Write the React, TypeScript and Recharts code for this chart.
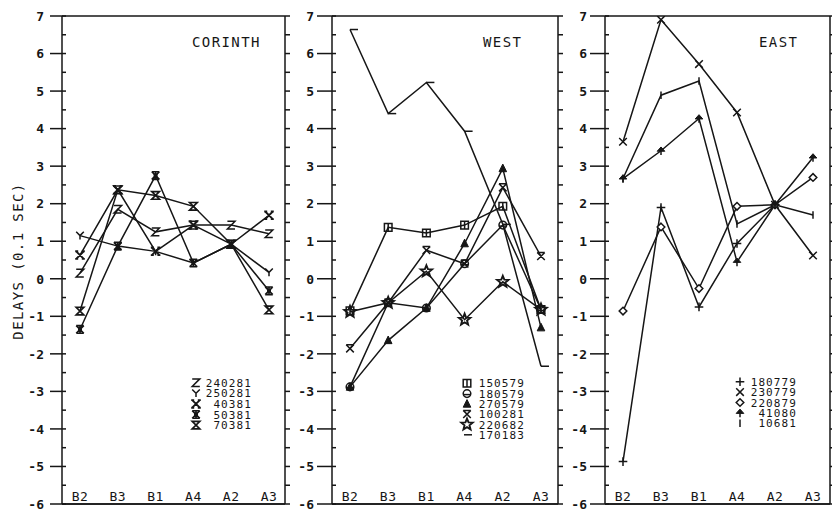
import React from "react";
import { LineChart, Line, XAxis, YAxis, ReferenceLine } from "recharts";

const INK = "#161616";
const FONT = "'DejaVu Sans Mono', monospace";

const categories = ["B2", "B3", "B1", "A4", "A2", "A3"];
const yTicks = [
  -6, -5.5, -5, -4.5, -4, -3.5, -3, -2.5, -2, -1.5, -1, -0.5, 0, 0.5, 1, 1.5,
  2, 2.5, 3, 3.5, 4, 4.5, 5, 5.5, 6, 6.5, 7,
];

// CORINTH
const cor240281 = [0.15, 1.85, 1.25, 1.43, 1.43, 1.2];
const cor250281 = [1.15, 0.87, 0.73, 0.42, 0.92, 0.17];
const cor40381 = [0.63, 2.37, 0.73, 1.43, 0.92, 1.69];
const cor50381 = [-1.35, 0.87, 2.75, 0.42, 0.92, -0.32];
const cor70381 = [-0.86, 2.37, 2.22, 1.93, 0.92, -0.83];

// WEST
const west150579 = [-0.85, 1.37, 1.22, 1.43, 1.93, -0.82];
const west180579 = [-2.88, -0.64, -0.78, 0.4, 1.43, -0.82];
const west270579 = [-2.88, -1.64, -0.78, 0.94, 2.94, -1.3];
const west100281 = [-1.86, -0.64, 0.76, 0.4, 2.43, 0.6];
const west220682 = [-0.88, -0.64, 0.2, -1.09, -0.08, -0.82];
const west170183 = [6.64, 4.4, 5.23, 3.93, 1.45, -2.33];

// EAST
const east180779 = [-4.87, 1.9, -0.75, 0.94, 1.97, null];
const east230779 = [3.65, 6.9, 5.72, 4.43, 1.97, 0.62];
const east220879 = [-0.86, 1.38, -0.26, 1.93, 1.97, 2.7];
const east41080 = [2.67, 3.41, 4.27, 0.45, 1.97, 3.23];
const east10681 = [2.67, 4.89, 5.27, 1.46, 1.97, 1.7];

type Kind =
  | "Z" | "Y" | "xbold" | "ast" | "hour" | "sqbar" | "circ" | "tri"
  | "xtop" | "star" | "dash" | "plus" | "cross" | "diam" | "arrow" | "bar";

interface Series {
  key: string;
  label: string;
  kind: Kind;
  values: (number | null)[];
}

const corinthSeries: Series[] = [
  { key: "s240281", label: "240281", kind: "Z", values: cor240281 },
  { key: "s250281", label: "250281", kind: "Y", values: cor250281 },
  { key: "s40381", label: "40381", kind: "xbold", values: cor40381 },
  { key: "s50381", label: "50381", kind: "ast", values: cor50381 },
  { key: "s70381", label: "70381", kind: "hour", values: cor70381 },
];

const westSeries: Series[] = [
  { key: "s150579", label: "150579", kind: "sqbar", values: west150579 },
  { key: "s180579", label: "180579", kind: "circ", values: west180579 },
  { key: "s270579", label: "270579", kind: "tri", values: west270579 },
  { key: "s100281", label: "100281", kind: "xtop", values: west100281 },
  { key: "s220682", label: "220682", kind: "star", values: west220682 },
  { key: "s170183", label: "170183", kind: "dash", values: west170183 },
];

const eastSeries: Series[] = [
  { key: "s180779", label: "180779", kind: "plus", values: east180779 },
  { key: "s230779", label: "230779", kind: "cross", values: east230779 },
  { key: "s220879", label: "220879", kind: "diam", values: east220879 },
  { key: "s41080", label: "41080", kind: "arrow", values: east41080 },
  { key: "s10681", label: "10681", kind: "bar", values: east10681 },
];

function starPath(r: number, ri: number) {
  const pts: string[] = [];
  for (let i = 0; i < 10; i++) {
    const a = -Math.PI / 2 + (i * Math.PI) / 5;
    const rr = i % 2 === 0 ? r : ri;
    pts.push(`${(Math.cos(a) * rr).toFixed(2)},${(Math.sin(a) * rr).toFixed(2)}`);
  }
  return "M" + pts.join("L") + "Z";
}

function Marker({ kind, x, y }: { kind: Kind; x: number; y: number }) {
  const s = 3.8;
  const st = { stroke: INK, strokeWidth: 1.5, fill: "none" };
  let body: React.ReactNode = null;
  switch (kind) {
    case "Z":
      body = <path d={`M${-s},${-s}H${s}L${-s},${s}H${s}`} {...st} />;
      break;
    case "Y":
      body = <path d={`M${-s},${-s}L0,0L${s},${-s}M0,0V${s}`} {...st} />;
      break;
    case "xbold":
      body = (
        <path
          d={`M${-s},${-s}L${s},${s}M${s},${-s}L${-s},${s}M${-s - 1},${-s}H${-s + 2}M${s - 2},${-s}H${s + 1}M${-s - 1},${s}H${-s + 2}M${s - 2},${s}H${s + 1}`}
          {...st}
          strokeWidth={1.9}
        />
      );
      break;
    case "ast":
      body = (
        <g>
          <path d={`M${-s},${-s}L${s},${s}M${s},${-s}L${-s},${s}M0,${-s}V${s}M${-s},${-s}H${s}M${-s},${s}H${s}`} {...st} strokeWidth={1.6} />
          <rect x={-2} y={-2} width={4} height={4} fill={INK} />
        </g>
      );
      break;
    case "hour":
      body = <path d={`M${-s},${-s}H${s}L${-s},${s}H${s}Z`} {...st} strokeWidth={1.7} />;
      break;
    case "sqbar":
      body = <path d={`M${-s},${-s}H${s}V${s}H${-s}ZM0,${-s}V${s}`} {...st} />;
      break;
    case "circ":
      body = (
        <g>
          <circle r={s} {...st} />
          <path d={`M${-s},1H${s}`} {...st} />
        </g>
      );
      break;
    case "tri":
      body = <path d={`M0,${-s - 0.5}L${s},${s - 0.5}L${-s},${s - 0.5}Z`} fill={INK} stroke={INK} strokeWidth={1} />;
      break;
    case "xtop":
      body = <path d={`M${-s},${-s}H${s}M${-s},${-s}L${s},${s}M${s},${-s}L${-s},${s}`} {...st} />;
      break;
    case "star":
      body = <path d={starPath(6, 2.6)} {...st} strokeWidth={1.9} />;
      break;
    case "dash":
      body = <path d="M0,0H8" {...st} />;
      break;
    case "plus":
      body = <path d={`M${-s - 0.5},0H${s + 0.5}M0,${-s - 0.5}V${s + 0.5}`} {...st} />;
      break;
    case "cross":
      body = <path d={`M${-s},${-s}L${s},${s}M${s},${-s}L${-s},${s}`} {...st} />;
      break;
    case "diam":
      body = <path d={`M0,${-s}L${s},0L0,${s}L${-s},0Z`} {...st} fill="#fff" />;
      break;
    case "arrow":
      body = (
        <g>
          <path d={`M0,${-s}L${s},0.5L${-s},0.5Z`} fill={INK} stroke={INK} strokeWidth={1} />
          <path d={`M0,0V${s + 0.5}`} {...st} />
        </g>
      );
      break;
    case "bar":
      body = <path d={`M0,${-s}V${s}`} {...st} />;
      break;
  }
  return <g transform={`translate(${x},${y})`}>{body}</g>;
}

function CatTick(props: any) {
  const { x, y, payload } = props;
  return (
    <text x={x} y={y - 3} textAnchor="middle" fill={INK} fontSize={13} fontFamily={FONT} letterSpacing={0.5}>
      {payload.value}
    </text>
  );
}

// left axis tick: long outward tick + label on integers, short inward tick everywhere,
// and the outward tick on the right-hand frame
function YTick(props: any) {
  const { x, y, payload, tickLen, gap, plotW } = props;
  const v = payload.value as number;
  const major = Number.isInteger(v);
  return (
    <g>
      {major && <path d={`M${x - tickLen},${y}H${x}`} stroke={INK} strokeWidth={1.5} fill="none" />}
      {major && (
        <text
          x={x - tickLen - gap}
          y={y + 4.8}
          textAnchor="end"
          fill={INK}
          fontSize={13}
          fontFamily={FONT}
          fontWeight={700}
        >
          {v}
        </text>
      )}
      <path d={`M${x},${y}H${x + 4}`} stroke={INK} strokeWidth={1.5} fill="none" />
      <path d={`M${x + plotW},${y}H${x + plotW + 5}`} stroke={INK} strokeWidth={1.5} fill="none" />
    </g>
  );
}

interface PanelProps {
  left: number;
  width: number;
  axisW: number;
  rightW: number;
  tickLen: number;
  tickGap: number;
  padL: number;
  padR: number;
  series: Series[];
}

function Panel({ left, width, axisW, rightW, tickLen, tickGap, padL, padR, series }: PanelProps) {
  const data = categories.map((cat, i) => {
    const row: Record<string, any> = { cat };
    series.forEach((s) => {
      row[s.key] = s.values[i];
    });
    return row;
  });
  const axisLine = { stroke: INK, strokeWidth: 1.5 };
  const plotW = width - axisW - rightW;
  return (
    <div style={{ position: "absolute", left, top: 0 }}>
      <LineChart width={width} height={510} data={data} margin={{ top: 16, right: 0, bottom: 5, left: 0 }}>
        <XAxis
          dataKey="cat"
          type="category"
          scale="point"
          padding={{ left: padL, right: padR }}
          height={1}
          tickSize={0}
          tickMargin={0}
          interval={0}
          tickLine={false}
          axisLine={axisLine}
          tick={<CatTick />}
        />
        <YAxis
          type="number"
          domain={[-6, 7]}
          ticks={yTicks}
          interval={0}
          minTickGap={0}
          allowDataOverflow
          width={axisW}
          tickSize={0}
          tickMargin={0}
          axisLine={axisLine}
          tickLine={false}
          tick={<YTick tickLen={tickLen} gap={tickGap} plotW={plotW} />}
        />
        <YAxis
          yAxisId="right"
          orientation="right"
          type="number"
          domain={[-6, 7]}
          allowDataOverflow
          width={rightW}
          axisLine={axisLine}
          tickLine={false}
          tick={false}
        />
        <ReferenceLine y={7} stroke={INK} strokeWidth={1.5} />
        <ReferenceLine y={-6} stroke={INK} strokeWidth={1.5} />
        {series.map((s) => (
          <Line
            key={s.key}
            dataKey={s.key}
            type="linear"
            stroke={INK}
            strokeWidth={1.5}
            isAnimationActive={false}
            activeDot={false}
            dot={(p: any) =>
              p.cy == null || p.value == null ? (
                <g key={`${s.key}-${p.index}`} />
              ) : (
                <Marker key={`${s.key}-${p.index}`} kind={s.kind} x={p.cx} y={p.cy} />
              )
            }
          />
        ))}
      </LineChart>
    </div>
  );
}

function LegendBlock({ series, symX, textRight, top, step }: { series: Series[]; symX: number; textRight: number; top: number; step: number }) {
  return (
    <g>
      {series.map((s, i) => {
        const y = top + i * step;
        return (
          <g key={s.key}>
            <Marker kind={s.kind} x={s.kind === "dash" ? symX - 3 : symX} y={y} />
            <text x={textRight} y={y + 4} textAnchor="end" fontSize={11} fontFamily={FONT} fill={INK} letterSpacing={1.1}>
              {s.label}
            </text>
          </g>
        );
      })}
    </g>
  );
}

export default function App() {
  const titleStyle = { fontSize: 14, fontFamily: FONT, fill: INK, letterSpacing: 1.4 } as const;
  return (
    <div style={{ position: "absolute", left: 0, top: 0, width: 832, height: 510, background: "#fff", overflow: "hidden" }}>
      <Panel left={0} width={290} axisW={62} rightW={5} tickLen={12} tickGap={6} padL={18} padR={16} series={corinthSeries} />
      <Panel left={290} width={273} axisW={42} rightW={5} tickLen={15} tickGap={3} padL={18} padR={17} series={westSeries} />
      <Panel left={563} width={269} axisW={42} rightW={2} tickLen={15} tickGap={3} padL={18} padR={17} series={eastSeries} />
      <svg width={832} height={510} style={{ position: "absolute", left: 0, top: 0, pointerEvents: "none" }}>
        <text x={192} y={47} {...titleStyle}>CORINTH</text>
        <text x={483} y={47} {...titleStyle}>WEST</text>
        <text x={759} y={47} {...titleStyle}>EAST</text>
        <text
          transform="translate(23,261) rotate(-90)"
          textAnchor="middle"
          fontSize={14}
          fontFamily={FONT}
          fill={INK}
          letterSpacing={1.4}
        >
          DELAYS (0.1 SEC)
        </text>
        <LegendBlock series={corinthSeries} symX={196} textRight={252} top={382.7} step={10.6} />
        <LegendBlock series={westSeries} symX={467} textRight={525} top={383.3} step={10.3} />
        <LegendBlock series={eastSeries} symX={740} textRight={797} top={381.7} step={10.4} />
      </svg>
    </div>
  );
}
